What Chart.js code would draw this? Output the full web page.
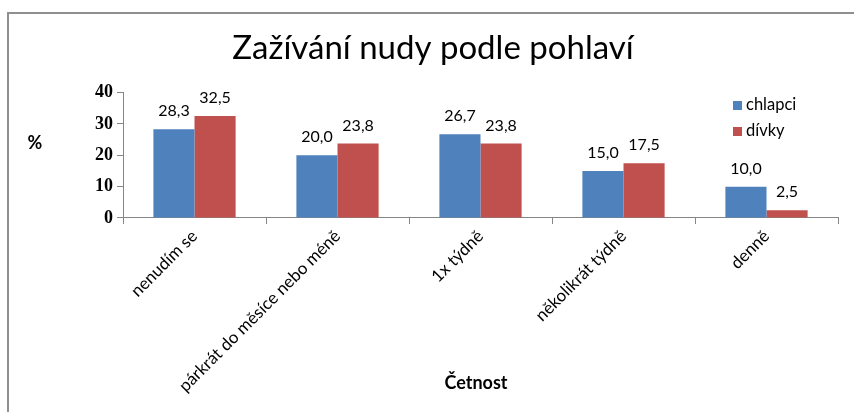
<!DOCTYPE html>
<html>
<head>
<meta charset="utf-8">
<script src="https://cdn.jsdelivr.net/npm/chart.js@4.4.0/dist/chart.umd.min.js"></script>
<style>
    body { margin: 0; background: #fff; }
    #wrap { width: 854px; height: 412px; }
</style>
</head>
<body>
<div id="wrap"><canvas id="chart-nuda" width="854" height="412"></canvas></div>
<script>
// data
const categories = ['nenudím se', 'párkrát do měsíce nebo méně', '1x týdně', 'několikrát týdně', 'denně'];
const seriesNames = ['chlapci', 'dívky'];
const chlapci = [28.3, 20.0, 26.7, 15.0, 10.0];
const divky = [32.5, 23.8, 23.8, 17.5, 2.5];
const yTicks = [0, 10, 20, 30, 40];
const colors = ['#4F81BD', '#C0504D'];

const FONT = 'Lato, "Open Sans", sans-serif';

// frame, value labels, axis titles, legend
const extras = {
    id: 'extras',
    beforeDraw(chart) {
        const ctx = chart.ctx;
        ctx.save();
        ctx.fillStyle = '#fff';
        ctx.fillRect(0, 0, chart.width, chart.height);
        ctx.strokeStyle = '#8f8f8f';
        ctx.lineWidth = 2;
        ctx.beginPath();
        ctx.moveTo(8, chart.height);
        ctx.lineTo(8, 13);
        ctx.lineTo(chart.width, 13);
        ctx.stroke();
        ctx.restore();
    },
    afterDatasetsDraw(chart) {
        const ctx = chart.ctx;
        ctx.save();
        ctx.fillStyle = '#000';
        ctx.font = '16px ' + FONT;
        ctx.textAlign = 'center';
        ctx.textBaseline = 'middle';
        chart.data.datasets.forEach((ds, i) => {
            chart.getDatasetMeta(i).data.forEach((bar, j) => {
                ctx.fillText(ds.data[j].toFixed(1).replace('.', ','), bar.x, bar.y - 18);
            });
        });

        // axis titles
        ctx.font = 'bold 18px ' + FONT;
        ctx.fillText('%', 35, 143);
        ctx.fillText('Četnost', 476, 383);

        // legend
        ctx.font = '16.5px ' + FONT;
        ctx.textAlign = 'left';
        chart.data.datasets.forEach((ds, i) => {
            const y = 105 + i * 26;
            ctx.fillStyle = ds.backgroundColor;
            ctx.fillRect(733, y - 4, 9, 9);
            ctx.fillStyle = '#000';
            ctx.fillText(ds.label, 746, y);
        });
        ctx.restore();
    }
};

const ctx = document.getElementById('chart-nuda').getContext('2d');

new Chart(ctx, {
    type: 'bar',
    data: {
        labels: categories,
        datasets: [
            { label: seriesNames[0], data: chlapci, backgroundColor: colors[0], borderWidth: 0 },
            { label: seriesNames[1], data: divky, backgroundColor: colors[1], borderWidth: 0 }
        ]
    },
    options: {
        responsive: false,
        animation: false,
        categoryPercentage: 0.575,
        barPercentage: 1,
        layout: { padding: { left: 28, right: 16, top: 0, bottom: 0 } },
        plugins: {
            legend: { display: false },
            tooltip: { enabled: false },
            title: {
                display: true,
                text: 'Zažívání nudy podle pohlaví',
                color: '#000',
                font: { family: FONT, size: 33, weight: 'normal', lineHeight: 1.2 },
                padding: { top: 29, bottom: 24 }
            }
        },
        scales: {
            x: {
                grid: { display: true, drawOnChartArea: false, offset: true, tickLength: 6, color: '#868686' },
                border: { color: '#868686' },
                ticks: {
                    color: '#000',
                    font: { family: FONT, size: 17 },
                    minRotation: 45,
                    maxRotation: 45,
                    autoSkip: false,
                    padding: 2
                },
                afterFit(scale) { scale.height = 194; }
            },
            y: {
                min: 0,
                max: 40,
                afterBuildTicks(scale) { scale.ticks = yTicks.map(v => ({ value: v })); },
                grid: { drawOnChartArea: false, tickLength: 6, color: '#868686' },
                border: { color: '#868686' },
                ticks: {
                    color: '#000',
                    font: { family: '"Liberation Serif", serif', size: 18, weight: 'bold' },
                    padding: 4
                },
                afterFit(scale) { scale.width = 95; }
            }
        }
    },
    plugins: [extras]
});
</script>
</body>
</html>
